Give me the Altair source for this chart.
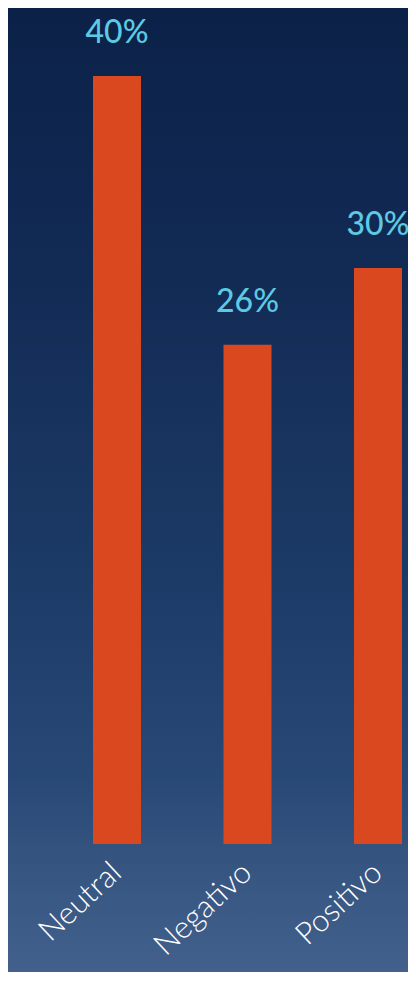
import altair as alt
import pandas as pd

categories = ["Neutral", "Negativo", "Positivo"]
values = [40, 26, 30]
labels = ["40%", "26%", "30%"]

df = pd.DataFrame({"cat": categories, "val": values, "lab": labels})
bg = pd.DataFrame({"k": [0]})

W = 400
H = 836
BOTTOM = 128
ymax = 40 * H / 768

background = alt.Chart(bg).mark_rect(
    color=alt.Gradient(
        gradient="linear",
        stops=[
            alt.GradientStop(color="#0b2148", offset=0),
            alt.GradientStop(color="#122b55", offset=0.28),
            alt.GradientStop(color="#1c3a66", offset=0.58),
            alt.GradientStop(color="#284876", offset=0.8),
            alt.GradientStop(color="#33527e", offset=0.87),
            alt.GradientStop(color="#3a5985", offset=0.93),
            alt.GradientStop(color="#42608b", offset=1),
        ],
        x1=0, x2=0, y1=0, y2=1,
    )
).encode(
    x=alt.value(0), x2=alt.value(W), y=alt.value(0), y2=alt.value(H + BOTTOM)
)

xenc = alt.X(
    "cat:N",
    sort=categories,
    scale=alt.Scale(paddingInner=0.632, paddingOuter=0.3487, align=0.934),
    axis=alt.Axis(
        title=None, labelAngle=-43, labelAlign="right", labelBaseline="middle",
        labelFont="Lato", labelFontWeight=300, labelFontSize=31,
        labelColor="#ffffff", labelPadding=24, ticks=False, domain=False,
        grid=False, labelOverlap=False, zindex=2,
    ),
)
yenc = alt.Y("val:Q", scale=alt.Scale(domain=[0, ymax], nice=False), axis=None)

bars = alt.Chart(df).mark_bar(color="#d9481f").encode(x=xenc, y=yenc)
text = alt.Chart(df).mark_text(
    font="Lato", fontSize=32, fontWeight=500, color="#5ec9e2",
    baseline="alphabetic", dy=-33,
).encode(x=alt.X("cat:N", sort=categories), y=yenc, text="lab:N")

chart = alt.layer(background, bars, text).properties(
    width=W, height=H,
    autosize=alt.AutoSizeParams(type="none"),
    padding={"left": 0, "top": 0, "right": 0, "bottom": BOTTOM},
).configure(background="#42608b").configure_view(strokeWidth=0)

chart.save("out.html", embed_options={"renderer": "svg", "actions": False})
